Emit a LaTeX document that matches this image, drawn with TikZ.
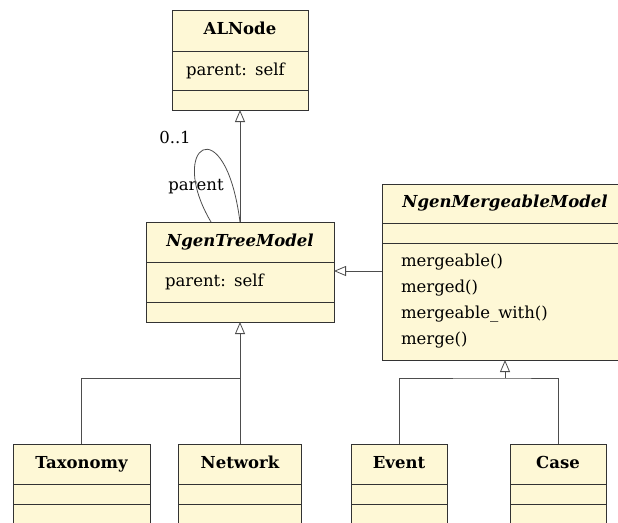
\documentclass[tikz,border=0pt]{standalone}
\usepackage{fontspec}
\setmainfont{DejaVu Serif}
\usepackage{tikz}
\usetikzlibrary{arrows.meta,positioning}
\definecolor{classfill}{HTML}{FEF8D6}
\definecolor{classline}{HTML}{333333}
\definecolor{linkgray}{HTML}{4D4D4D}

\begin{document}
\begin{tikzpicture}[x=1pt, y=-1pt,
  every node/.style={font=\fontsize{16.5}{26}\selectfont},
  part/.style={draw=classline, fill=classfill, line width=0.8pt, inner sep=0pt,
               outer sep=0pt, anchor=north},
  head/.style={part, font=\fontsize{16.5}{26}\selectfont\bfseries, align=center,
               text height=12pt, text depth=4pt},
  ihead/.style={head, font=\fontsize{16.5}{26}\selectfont\bfseries\itshape},
  slot/.style={part, text width=#1, inner xsep=19pt, align=left},
  link/.style={draw=linkgray, line width=0.8pt},
  inherit/.style={link, -{Triangle[open, length=12pt, width=10pt]}}
]
\useasboundingbox (0,0) rectangle (618,522);
\clip (0,0) rectangle (618,522);

\node[head, minimum width=136pt, minimum height=41pt] (al) at (240,10) {ALNode};
\node[slot=108pt, inner xsep=14pt, minimum height=39pt, below=0pt of al] (al-attr) {parent: self};
\node[slot=98pt, minimum height=20pt, below=0pt of al-attr] (al-ops) {};

\node[ihead, minimum width=188pt, minimum height=40pt] (tree) at (240,222) {NgenTreeModel};
\node[slot=150pt, minimum height=40pt, below=0pt of tree] (tree-attr) {parent: self};
\node[slot=150pt, minimum height=20pt, below=0pt of tree-attr] (tree-ops) {};

\node[ihead, minimum width=246pt, minimum height=39pt] (merge) at (505,184) {NgenMergeableModel};
\node[slot=208pt, minimum height=20pt, below=0pt of merge] (merge-attr) {};
\node[slot=208pt, minimum height=117pt, below=0pt of merge-attr] (merge-ops)
  {mergeable()\\merged()\\mergeable\_with()\\merge()};

\node[head, minimum width=137pt, minimum height=40pt] (tax) at (81.5,444) {Taxonomy};
\node[slot=99pt, minimum height=20pt, below=0pt of tax] (tax-attr) {};
\node[slot=99pt, minimum height=20pt, below=0pt of tax-attr] (tax-ops) {};

\node[head, minimum width=123pt, minimum height=40pt] (net) at (240,444) {Network};
\node[slot=85pt, minimum height=20pt, below=0pt of net] (net-attr) {};
\node[slot=85pt, minimum height=20pt, below=0pt of net-attr] (net-ops) {};

\node[head, minimum width=96pt, minimum height=40pt] (event) at (399,444) {Event};
\node[slot=58pt, minimum height=20pt, below=0pt of event] (event-attr) {};
\node[slot=58pt, minimum height=20pt, below=0pt of event-attr] (event-ops) {};

\node[head, minimum width=96pt, minimum height=40pt] (case) at (558,444) {Case};
\node[slot=58pt, minimum height=20pt, below=0pt of case] (case-attr) {};
\node[slot=58pt, minimum height=20pt, below=0pt of case-attr] (case-ops) {};

\node (mult) at (175,137) {0..1};
\node (role) at (196,187) {parent};

\draw[inherit] (tree.north) -- (al-ops.south);
\draw[link] ([xshift=-29pt]tree.north) .. controls +(-45,-76) and +(-15,-116) .. (tree.north);

\coordinate (hook) at (0,271);
\draw[inherit] (merge.west |- hook) -- (tree-attr.east |- hook);

\coordinate (treefork) at (240,378);
\draw[inherit] (net.north) -- (tree-ops.south);
\draw[link] (tax.north) |- (treefork);

\coordinate (mergefork) at (505,378);
\draw[inherit] (mergefork) -- (merge-ops.south);
\draw[link] (event.north) |- (mergefork) -| (case.north);
\end{tikzpicture}
\end{document}
